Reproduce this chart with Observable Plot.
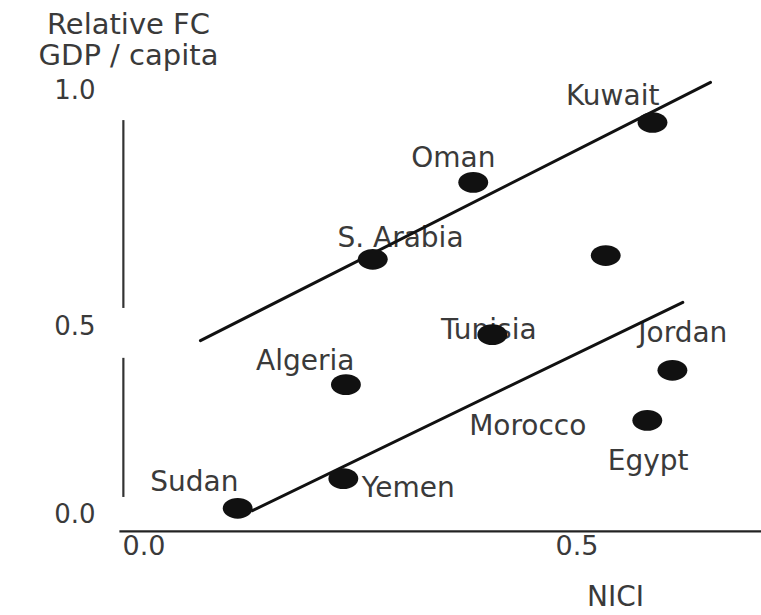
<!DOCTYPE html>
<html><head><meta charset="utf-8">
<script src="https://cdn.jsdelivr.net/npm/d3@7"></script>
<script src="https://cdn.jsdelivr.net/npm/@observablehq/plot@0.6"></script>
<style>body{margin:0;background:#fff}#chart svg{display:block}</style>
</head><body><div id="chart"></div>
<script>
// Points (NICI vs Relative FC GDP / capita)
const countries = ["Kuwait","Oman","S. Arabia","(unlabelled)","Tunisia","Jordan","Algeria","Egypt","Yemen","Sudan"];
const nici = [0.612,0.405,0.289,0.558,0.427,0.635,0.258,0.606,0.255,0.133];
const gdp  = [0.928,0.801,0.638,0.646,0.473,0.378,0.340,0.245,0.090,0.011];

// Country labels as printed in the figure
const labelText = ["Kuwait","Oman","S. Arabia","Tunisia","Jordan","Algeria","Morocco","Egypt","Yemen","Sudan"];
const labelX = [0.566,0.382,0.321,0.423,0.647,0.211,0.468,0.607,0.330,0.083];
const labelY = [0.985,0.852,0.684,0.484,0.476,0.404,0.231,0.138,0.064,0.080];

// Two hand-drawn reference lines
const lineName = ["upper","upper","lower","lower"];
const lineX = [0.090,0.679,0.150,0.647];
const lineY = [0.457,1.013,0.005,0.547];

// Axes
const xTicks = [0, 0.5];
const yTicks = [0, 0.5, 1];
const yAxisSegStart = [0.932, 0.410];
const yAxisSegEnd   = [0.534, 0.040];
const xAxisBase = [-0.05];

// The printed y axis is not evenly spaced (0.0–0.5 shorter than 0.5–1.0)
const yWarp = v => (v <= 0.5 ? v * 376 : 188 + (v - 0.5) * 472);

const ellipse = {
  draw(ctx, size) {
    const r = Math.sqrt(size / Math.PI), rx = r * 1.3, ry = r * 0.9, k = 0.5523;
    ctx.moveTo(rx, 0);
    ctx.bezierCurveTo(rx, ry * k, rx * k, ry, 0, ry);
    ctx.bezierCurveTo(-rx * k, ry, -rx, ry * k, -rx, 0);
    ctx.bezierCurveTo(-rx, -ry * k, -rx * k, -ry, 0, -ry);
    ctx.bezierCurveTo(rx * k, -ry, rx, -ry * k, rx, 0);
    ctx.closePath();
  }
};

const ink = "#111", textInk = "#3a3a3a";
const fmt = d3.format(".1f");

const chart = Plot.plot({
  width: 761,
  height: 615,
  marginLeft: 123,
  marginRight: 0,
  marginTop: 120,
  marginBottom: 84,
  style: {fontFamily: "DejaVu Sans", background: "#fff"},
  x: {domain: [0, 0.5], range: [122, 555]},
  y: {transform: yWarp, domain: [0, 424], range: [512, 88], axis: null},
  marks: [
    Plot.ruleX(yAxisSegStart, {x: 0.001, y1: yAxisSegStart, y2: yAxisSegEnd, stroke: "#333", strokeWidth: 2.2}),
    Plot.ruleY(xAxisBase, {y: d => d, x1: -0.003, x2: 0.75, stroke: "#222", strokeWidth: 2.2}),
    Plot.text(yTicks, {x: 0, y: d => d, text: d => fmt(d), textAnchor: "end", dx: -27, dy: 2, lineAnchor: "middle", fontSize: 26, fill: textInk}),
    Plot.axisX(xTicks, {anchor: "bottom", tickSize: 0, tickPadding: 4, textAnchor: "start", fontSize: 27, tickFormat: fmt, color: textInk, label: null}),
    Plot.text(["Relative FC\nGDP / capita"], {frameAnchor: "top-left", dx: 5, dy: -109, lineAnchor: "top", textAnchor: "middle", fontSize: 29, lineHeight: 1.07, fill: textInk}),
    Plot.text(["NICI"], {frameAnchor: "bottom-left", dx: 492, dy: 66, lineAnchor: "middle", textAnchor: "middle", fontSize: 28, fill: textInk}),
    Plot.text(labelText, {x: labelX, y: labelY, text: labelText, fontSize: 28, fill: textInk, lineAnchor: "middle", textAnchor: "middle"}),
    Plot.line(lineName, {x: lineX, y: lineY, z: lineName, stroke: ink, strokeWidth: 3}),
    Plot.dot(countries, {x: nici, y: gdp, r: 11.5, symbol: ellipse, fill: ink, stroke: "none"})
  ]
});
document.getElementById("chart").append(chart);
</script>
</body></html>
